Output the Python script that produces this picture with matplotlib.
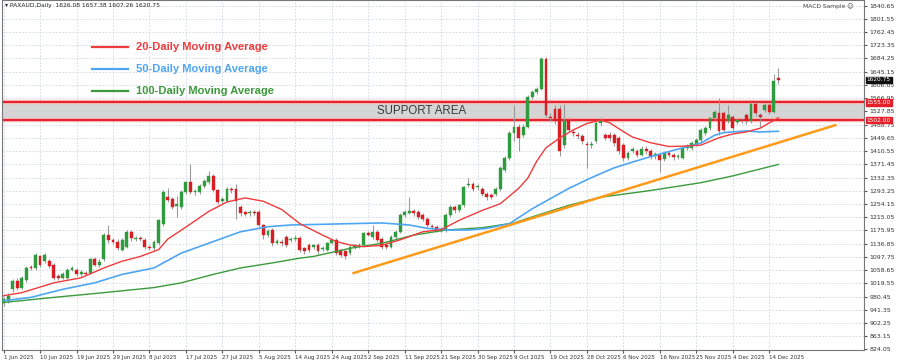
import matplotlib
matplotlib.use("Agg")
import matplotlib.pyplot as plt
from matplotlib.lines import Line2D

# daily candles (bar index 0 = 1 Jun 2025)
opens = [960, 968, 1002, 1026, 1007, 1030, 1068, 1065, 1099, 1085,
         1085, 1075, 1041, 1036, 1036, 1060, 1060, 1048, 1050, 1051,
         1090, 1075, 1090, 1162, 1148, 1143, 1119, 1128, 1172, 1150,
         1153, 1148, 1128, 1124, 1138, 1196, 1274, 1269, 1250, 1245,
         1289, 1318, 1289, 1289, 1308, 1318, 1337, 1294, 1264, 1264,
         1298, 1298, 1245, 1228, 1226, 1230, 1230, 1192, 1162, 1177,
         1141, 1143, 1157, 1148, 1150, 1153, 1123, 1133, 1128, 1133,
         1120, 1119, 1140, 1148, 1118, 1114, 1109, 1128, 1130, 1134,
         1167, 1157, 1172, 1152, 1130, 1128, 1157, 1172, 1221, 1230,
         1232, 1230, 1221, 1211, 1190, 1187, 1177, 1177, 1221, 1245,
         1235, 1250, 1311, 1313, 1303, 1298, 1284, 1279, 1284, 1298,
         1356, 1390, 1464, 1483, 1459, 1483, 1570, 1585, 1595, 1682,
         1512, 1536, 1536, 1429, 1502, 1468, 1459, 1454, 1431, 1429,
         1439, 1493, 1458, 1458, 1458, 1449, 1429, 1390, 1413, 1412,
         1400, 1418, 1410, 1395, 1400, 1388, 1405, 1398, 1392, 1391,
         1420, 1420, 1430, 1444, 1464, 1478, 1507, 1522, 1522, 1498,
         1512, 1497, 1502, 1517, 1498, 1551, 1517, 1532, 1546, 1527,
         1626.08]
highs = [978, 990, 1031, 1034, 1041, 1070, 1075, 1109, 1104, 1110,
         1092, 1080, 1048, 1052, 1065, 1070, 1066, 1058, 1055, 1095,
         1096, 1090, 1167, 1192, 1155, 1150, 1155, 1178, 1178, 1160,
         1158, 1153, 1134, 1148, 1211, 1294, 1300, 1275, 1279, 1294,
         1323, 1371, 1298, 1313, 1328, 1352, 1342, 1298, 1276, 1303,
         1304, 1313, 1250, 1234, 1236, 1236, 1235, 1196, 1180, 1182,
         1150, 1150, 1162, 1156, 1161, 1158, 1128, 1138, 1136, 1138,
         1130, 1143, 1155, 1153, 1122, 1118, 1133, 1136, 1140, 1172,
         1173, 1192, 1177, 1156, 1136, 1162, 1177, 1226, 1236, 1274,
         1240, 1236, 1226, 1216, 1196, 1192, 1185, 1226, 1250, 1250,
         1255, 1308, 1330, 1318, 1314, 1304, 1289, 1286, 1304, 1366,
         1396, 1470, 1546, 1490, 1490, 1576, 1590, 1600, 1688, 1688,
         1522, 1546, 1546, 1551, 1510, 1476, 1466, 1460, 1440, 1440,
         1500, 1512, 1464, 1466, 1464, 1455, 1434, 1412, 1422, 1418,
         1424, 1424, 1416, 1408, 1406, 1411, 1412, 1404, 1402, 1426,
         1431, 1440, 1450, 1478, 1484, 1512, 1532, 1566, 1528, 1546,
         1518, 1508, 1508, 1522, 1556, 1556, 1524, 1552, 1552, 1639,
         1657.38]
lows = [952, 962, 995, 1000, 1002, 1024, 1058, 1060, 1068, 1080,
        1065, 1030, 1030, 1031, 1032, 1055, 1040, 1042, 1043, 1046,
        1070, 1068, 1085, 1140, 1136, 1118, 1114, 1124, 1146, 1144,
        1144, 1122, 1118, 1119, 1133, 1190, 1260, 1238, 1216, 1240,
        1284, 1284, 1282, 1284, 1302, 1313, 1289, 1254, 1258, 1260,
        1288, 1211, 1218, 1220, 1220, 1222, 1185, 1150, 1156, 1130,
        1135, 1130, 1126, 1142, 1144, 1112, 1106, 1112, 1121, 1106,
        1114, 1114, 1135, 1102, 1096, 1090, 1104, 1122, 1125, 1129,
        1158, 1152, 1142, 1120, 1120, 1123, 1152, 1167, 1215, 1224,
        1220, 1210, 1205, 1186, 1180, 1170, 1170, 1172, 1216, 1228,
        1230, 1245, 1304, 1292, 1296, 1278, 1267, 1270, 1279, 1293,
        1350, 1385, 1439, 1410, 1452, 1478, 1563, 1578, 1590, 1510,
        1500, 1490, 1395, 1420, 1466, 1455, 1447, 1432, 1361, 1420,
        1434, 1486, 1442, 1440, 1426, 1402, 1382, 1384, 1406, 1394,
        1395, 1403, 1388, 1388, 1350, 1382, 1392, 1385, 1386, 1386,
        1414, 1414, 1424, 1438, 1458, 1472, 1500, 1459, 1466, 1492,
        1470, 1490, 1494, 1490, 1492, 1515, 1483, 1526, 1520, 1522,
        1607.26]
closes = [972, 983, 1026, 1007, 1036, 1065, 1064, 1104, 1075, 1104,
          1070, 1036, 1035, 1046, 1060, 1064, 1046, 1052, 1048, 1090,
          1075, 1082, 1162, 1148, 1143, 1124, 1148, 1172, 1153, 1153,
          1150, 1128, 1124, 1143, 1206, 1289, 1266, 1245, 1252, 1289,
          1318, 1289, 1293, 1308, 1323, 1337, 1294, 1260, 1270, 1298,
          1294, 1264, 1226, 1226, 1230, 1228, 1192, 1162, 1175, 1138,
          1143, 1138, 1133, 1150, 1155, 1119, 1114, 1119, 1130, 1114,
          1124, 1138, 1148, 1109, 1104, 1099, 1128, 1130, 1134, 1167,
          1165, 1172, 1148, 1128, 1128, 1157, 1172, 1221, 1230, 1232,
          1226, 1216, 1211, 1192, 1187, 1177, 1179, 1221, 1245, 1235,
          1250, 1303, 1313, 1298, 1308, 1284, 1274, 1277, 1298, 1361,
          1390, 1464, 1483, 1449, 1483, 1570, 1585, 1595, 1682, 1517,
          1507, 1498, 1410, 1498, 1473, 1463, 1454, 1439, 1429, 1432,
          1493, 1502, 1449, 1449, 1434, 1410, 1390, 1405, 1415, 1400,
          1418, 1410, 1395, 1402, 1385, 1405, 1398, 1392, 1396, 1420,
          1425, 1434, 1444, 1473, 1478, 1507, 1527, 1469, 1473, 1517,
          1478, 1502, 1500, 1498, 1551, 1522, 1512, 1546, 1527, 1619,
          1620.75]

# moving averages (bar index, value)
ma20_x = [0, 4, 11, 17, 22, 26, 30, 34, 36, 41, 45, 49, 53, 57, 61, 65, 70, 73, 76, 79,
          83, 87, 92, 96, 100, 105, 109, 113, 115, 117, 119, 122, 125, 128, 131, 133, 136,
          138, 142, 146, 149, 153, 157, 160, 163, 166, 170]
ma20_y = [983, 992, 1021, 1036, 1065, 1085, 1099, 1119, 1150, 1195, 1232, 1260, 1272, 1262,
          1238, 1196, 1162, 1143, 1133, 1128, 1132, 1148, 1172, 1178, 1206, 1235, 1255, 1300,
          1330, 1381, 1420, 1449, 1473, 1492, 1502, 1494, 1468, 1452, 1435, 1424, 1425, 1428,
          1450, 1461, 1467, 1478, 1509]
ma50_x = [0, 6, 13, 20, 26, 33, 39, 46, 52, 58, 63, 70, 76, 83, 89, 93, 98, 102, 106, 111,
          116, 120, 124, 129, 134, 138, 143, 149, 153, 156, 158, 163, 166, 170]
ma50_y = [968, 978, 1002, 1021, 1046, 1065, 1109, 1143, 1172, 1187, 1192, 1194, 1196, 1198,
          1192, 1182, 1177, 1177, 1182, 1196, 1240, 1270, 1300, 1332, 1361, 1378, 1398, 1420,
          1434, 1457, 1465, 1470, 1467, 1469]
ma100_x = [0, 11, 22, 33, 39, 46, 52, 59, 65, 68, 76, 83, 90, 97, 105, 112, 116, 124, 131,
           142, 153, 160, 170]
ma100_y = [963, 978, 992, 1007, 1021, 1046, 1065, 1080, 1094, 1099, 1123, 1138, 1162, 1177,
           1184, 1198, 1216, 1250, 1274, 1294, 1317, 1337, 1371]

trend_x = [76.8, 182.5]
trend_y = [1050, 1487]
support_low, support_high = 1502, 1555

price_ticks = [863.15, 902.25, 941.35, 980.45, 1019.55, 1058.65, 1097.75, 1136.85, 1175.95,
               1215.05, 1254.15, 1293.25, 1332.35, 1371.45, 1410.55, 1449.65, 1488.75, 1527.85,
               1566.95, 1606.05, 1645.15, 1684.25, 1723.35, 1762.45, 1801.55, 1840.65]
date_labels = ["1 Jun 2025", "10 Jun 2025", "19 Jun 2025", "29 Jun 2025", "8 Jul 2025",
               "17 Jul 2025", "27 Jul 2025", "5 Aug 2025", "14 Aug 2025", "24 Aug 2025",
               "2 Sep 2025", "11 Sep 2025", "21 Sep 2025", "30 Sep 2025", "9 Oct 2025",
               "19 Oct 2025", "28 Oct 2025", "6 Nov 2025", "16 Nov 2025", "25 Nov 2025",
               "4 Dec 2025", "14 Dec 2025"]
date_pos = [8 * k for k in range(len(date_labels))]

fig = plt.figure(figsize=(9, 3.64), dpi=100)
ax = fig.add_axes([0.002, 0.038, 0.958, 0.962])

grid_c = "#cfd6e0"
for p in price_ticks:
    ax.axhline(p, color=grid_c, lw=0.6, ls=(0, (2, 2)), zorder=0)
for d in date_pos:
    ax.axvline(d, color=grid_c, lw=0.6, ls=(0, (2, 2)), zorder=0)

# support band
ax.axhspan(support_low, support_high, color="#d5d5d5", zorder=1)
for s in (support_low, support_high):
    ax.axhline(s, color="#f7b3b3", lw=3.2, zorder=2)
    ax.axhline(s, color="#e5202a", lw=1.4, zorder=2)
ax.text(91.7, (support_low + support_high) / 2, "SUPPORT AREA", ha="center", va="center",
        fontsize=8.3, color="#3a3a3a", family="Liberation Sans", zorder=6)

# candles
idx = list(range(len(closes)))
up_c, dn_c = "#2f9a3e", "#d81e22"
for i in idx:
    o, h, l, c = opens[i], highs[i], lows[i], closes[i]
    col = up_c if c >= o else dn_c
    ax.vlines(i, l, h, color="#9a9a9a", lw=0.8, zorder=3)
    lo, hi = min(o, c), max(o, c)
    if hi - lo < 3:
        lo, hi = lo - 1.5, hi + 1.5
    ax.bar(i, hi - lo, bottom=lo, width=0.62, color=col, edgecolor=col, lw=0.3, zorder=4)

ax.plot(ma100_x, ma100_y, color="#3c9a3c", lw=1.0, zorder=5)
ax.plot(ma50_x, ma50_y, color="#4ea6f2", lw=1.2, zorder=5)
ax.plot(ma20_x, ma20_y, color="#ef3b3b", lw=1.0, zorder=5)
ax.plot(trend_x, trend_y, color="#ff9a1a", lw=1.8, zorder=5)

ax.set_xlim(-0.4, 188.8)
ax.set_ylim(822, 1857)

ax.yaxis.tick_right()
ax.set_yticks(price_ticks + [824.05])
ax.set_yticklabels([f"{p:.2f}" for p in price_ticks + [824.05]], fontsize=4.5, color="#333333")
ax.tick_params(axis="y", length=2, pad=2, colors="#555555", labelcolor="#333333")
ax.set_xticks(date_pos)
ax.set_xticklabels(date_labels, fontsize=4.0, color="#333333", ha="left")
ax.tick_params(axis="x", length=2, pad=1.5, colors="#555555", labelcolor="#333333")

for sp in ax.spines.values():
    sp.set_color("#777777")
    sp.set_linewidth(0.8)

# price tags on the axis
tr = ax.get_yaxis_transform()
for val, bg in ((support_high, "#e5202a"), (support_low, "#e5202a"), (closes[-1], "#111111")):
    ax.text(1.003, val, f"{val:.2f}", transform=tr, fontsize=4.2, color="white", va="center",
            ha="left", bbox=dict(boxstyle="square,pad=0.15", fc=bg, ec=bg), zorder=7, clip_on=False)

# legend
leg = [("20-Daily Moving Average", "#ef3b3b", 47), ("50-Daily Moving Average", "#4ea6f2", 69),
       ("100-Daily Moving Average", "#3c9a3c", 91)]
for txt, col, ypx in leg:
    yf = 1 - ypx / 364
    fig.add_artist(Line2D([92 / 900, 128 / 900], [yf, yf], color=col, lw=1.6))
    fig.text(136 / 900, yf, txt, color=col, fontsize=8, fontweight="bold",
             family="Liberation Sans", va="center", ha="left")

fig.text(0.006, 0.992, "\u25be PAXAUD,Daily  1626.08 1657.38 1607.26 1620.75", fontsize=4.3,
         color="#222222", va="top", ha="left")
fig.text(0.948, 0.992, "MACD Sample \u263a", fontsize=4.3, color="#444444", va="top", ha="right")

fig.savefig("out.png", dpi=100)
